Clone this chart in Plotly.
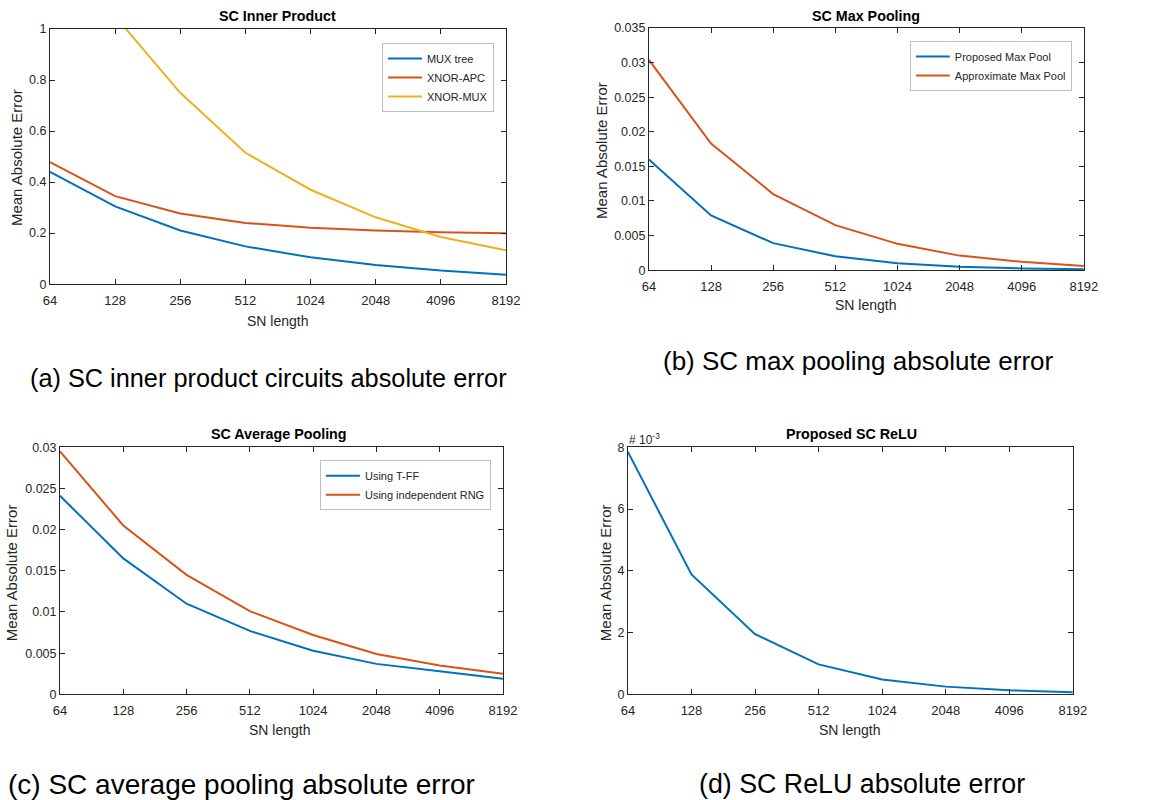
import math
import plotly.graph_objects as go

sn_length = [64, 128, 256, 512, 1024, 2048, 4096, 8192]
tick_labels = ["64", "128", "256", "512", "1024", "2048", "4096", "8192"]

# (a) SC Inner Product
mux_tree = [0.44, 0.305, 0.21, 0.148, 0.105, 0.075, 0.053, 0.037]
xnor_apc = [0.478, 0.345, 0.277, 0.240, 0.221, 0.210, 0.203, 0.199]
xnor_mux = [1.50, 1.05, 0.75, 0.515, 0.37, 0.262, 0.185, 0.133]

# (b) SC Max Pooling
proposed_maxpool = [0.0160, 0.0079, 0.0039, 0.0020, 0.0010, 0.0005, 0.00025, 0.00012]
approx_maxpool = [0.0304, 0.0183, 0.0110, 0.0065, 0.0038, 0.0021, 0.0012, 0.0006]

# (c) SC Average Pooling
tff = [0.0241, 0.0165, 0.0110, 0.0077, 0.0053, 0.0037, 0.0028, 0.0019]
indep_rng = [0.0295, 0.0205, 0.0145, 0.0101, 0.0072, 0.0049, 0.0035, 0.0025]

# (d) Proposed SC ReLU
relu = [0.00785, 0.00388, 0.00195, 0.00097, 0.00048, 0.00025, 0.00013, 0.00007]

BLUE = "#0072BD"
ORANGE = "#D95319"
YELLOW = "#EDB120"
FONT = "Liberation Sans, Arial, sans-serif"
W, H = 1158, 800
OFF, SC = 7.0, 0.982

fig = go.Figure()


def px_x(p):
    return ((p - OFF) / SC) / W


def px_y(p):
    return 1 - ((p - OFF) / SC) / H


panels = {
    "a": dict(x=(50, 506), y=(29, 284)),
    "b": dict(x=(649, 1084), y=(28, 270)),
    "c": dict(x=(60, 503), y=(447, 694)),
    "d": dict(x=(628, 1073), y=(447, 694)),
}
axis_ids = {"a": ("x", "y", "", ""), "b": ("x2", "y2", "2", "2"),
            "c": ("x3", "y3", "3", "3"), "d": ("x4", "y4", "4", "4")}


def add_line(panel, y, name, color, legend, show=True):
    xa, ya, _, _ = axis_ids[panel]
    fig.add_trace(go.Scatter(x=sn_length, y=y, name=name, mode="lines",
                             line=dict(color=color, width=2),
                             xaxis=xa, yaxis=ya, legend=legend, showlegend=show))


add_line("a", mux_tree, "MUX tree", BLUE, "legend")
add_line("a", xnor_apc, "XNOR-APC", ORANGE, "legend")
add_line("a", xnor_mux, "XNOR-MUX", YELLOW, "legend")
add_line("b", proposed_maxpool, "Proposed Max Pool", BLUE, "legend2")
add_line("b", approx_maxpool, "Approximate Max Pool", ORANGE, "legend2")
add_line("c", tff, "Using T-FF", BLUE, "legend3")
add_line("c", indep_rng, "Using independent RNG", ORANGE, "legend3")
add_line("d", relu, "Proposed SC ReLU", BLUE, "legend", show=False)

yranges = {
    "a": dict(range=[0, 1], tickvals=[0, 0.2, 0.4, 0.6, 0.8, 1],
              ticktext=["0", "0.2", "0.4", "0.6", "0.8", "1"]),
    "b": dict(range=[0, 0.035], tickvals=[0, 0.005, 0.01, 0.015, 0.02, 0.025, 0.03, 0.035],
              ticktext=["0", "0.005", "0.01", "0.015", "0.02", "0.025", "0.03", "0.035"]),
    "c": dict(range=[0, 0.03], tickvals=[0, 0.005, 0.01, 0.015, 0.02, 0.025, 0.03],
              ticktext=["0", "0.005", "0.01", "0.015", "0.02", "0.025", "0.03"]),
    "d": dict(range=[0, 0.008], tickvals=[0, 0.002, 0.004, 0.006, 0.008],
              ticktext=["0", "2", "4", "6", "8"]),
}

common = dict(showline=True, linecolor="#262626", linewidth=1, mirror="allticks",
              ticks="inside", ticklen=5, tickcolor="#262626", showgrid=False,
              zeroline=False)

layout = {}
for p, d in panels.items():
    _, _, xs, ys = axis_ids[p]
    xd = [px_x(d["x"][0]), px_x(d["x"][1])]
    yd = [px_y(d["y"][1]), px_y(d["y"][0])]
    layout["xaxis" + xs] = dict(domain=xd, type="log",
                               range=[math.log10(64), math.log10(8192)],
                               tickvals=sn_length, ticktext=tick_labels,
                               anchor="y" + ys, ticklabelstandoff=4,
                               tickfont=dict(family=FONT, size=13, color="#262626"),
                               **common)
    layout["yaxis" + ys] = dict(domain=yd, anchor="x" + xs, **yranges[p],
                               tickfont=dict(family=FONT, size=12.5, color="#262626"),
                               **common)

legend_style = dict(bgcolor="white", bordercolor="#BFBFBF", borderwidth=1,
                    font=dict(family=FONT, size=11, color="#262626"),
                    xanchor="right", yanchor="top", xref="paper", yref="paper",
                    visible=True, orientation="v", itemwidth=34)
layout["legend"] = dict(x=px_x(494), y=px_y(43), **legend_style)
layout["legend2"] = dict(x=px_x(1072), y=px_y(41), **legend_style)
layout["legend3"] = dict(x=px_x(491), y=px_y(460), **legend_style)

fig.update_layout(width=W, height=H, margin=dict(l=0, r=0, t=0, b=0),
                  paper_bgcolor="white", plot_bgcolor="white", showlegend=True,
                  font=dict(family=FONT, color="#262626"), **layout)

annotations = []


def ann(text, x, y, size, bold=False, angle=0, xanchor="center", color="#262626"):
    t = f"<b>{text}</b>" if bold else text
    annotations.append(dict(text=t, x=px_x(x), y=px_y(y), xref="paper", yref="paper",
                            showarrow=False, xanchor=xanchor, yanchor="middle",
                            textangle=angle, font=dict(family=FONT, size=size, color=color)))


# titles
ann("SC Inner Product", 278, 16, 14.3, bold=True, color="black")
ann("SC Max Pooling", 866, 16, 14.3, bold=True, color="black")
ann("SC Average Pooling", 279, 434, 14.3, bold=True, color="black")
ann("Proposed SC ReLU", 852, 434, 14.3, bold=True, color="black")
# x titles
ann("SN length", 278, 321, 14)
ann("SN length", 866, 305, 14)
ann("SN length", 280, 730, 14)
ann("SN length", 850, 730, 14)
# y titles
ann("Mean Absolute Error", 16, 157, 15, angle=-90)
ann("Mean Absolute Error", 601, 150, 15, angle=-90)
ann("Mean Absolute Error", 11, 572, 15, angle=-90)
ann("Mean Absolute Error", 605, 572, 15, angle=-90)
# exponent
ann("# 10<sup>-3</sup>", 627, 439, 12, xanchor="left")
# captions
ann("(a) SC inner product circuits absolute error", 28, 378, 25.3, xanchor="left", color="black")
ann("(b) SC max pooling absolute error", 661, 361, 26, xanchor="left", color="black")
ann("(c) SC average pooling absolute error", 6, 784, 28, xanchor="left", color="black")
ann("(d) SC ReLU absolute error", 697, 784, 26.8, xanchor="left", color="black")

fig.update_layout(annotations=annotations)

post = (
    "document.body.style.margin='0';"
    "document.body.style.overflow='hidden';"
)
fig.write_html("out.html", config={"displayModeBar": False}, post_script=post)
